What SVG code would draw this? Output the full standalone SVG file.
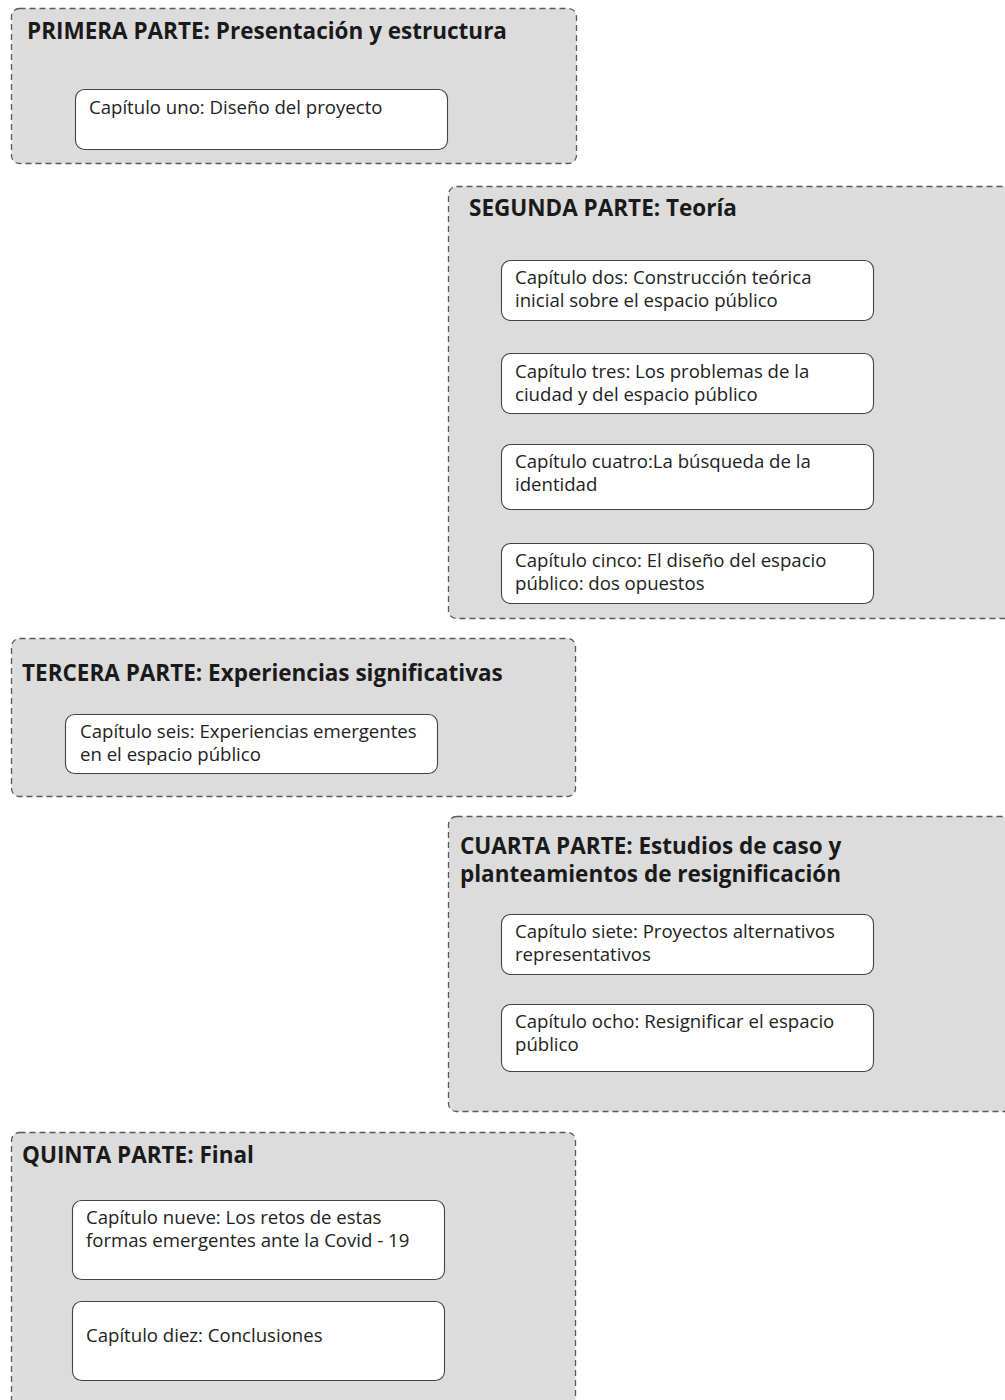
<svg xmlns="http://www.w3.org/2000/svg" width="1005" height="1400" viewBox="0 0 1005 1400">
  <style>
    .part { fill: #dcdcdc; stroke: #5a5a5a; stroke-width: 1.3; stroke-dasharray: 6 4; }
    .chap { fill: #ffffff; stroke: #444; stroke-width: 1.1; }
    .title { font-family: "Open Sans", "Liberation Sans", sans-serif; font-weight: bold; font-size: 22.5px; fill: #1a1a1a; }
    .label { font-family: "Open Sans", "Liberation Sans", sans-serif; font-size: 18.6px; fill: #222; }
  </style>
  <rect width="1005" height="1400" fill="#ffffff"/>

  <!-- Part one -->
  <g id="parte1">
    <rect class="part" x="11.5" y="8.5" width="565" height="155" rx="8"/>
    <text class="title" x="27" y="39">PRIMERA PARTE: Presentación y estructura</text>
  </g>
  <g id="cap1">
    <rect class="chap" x="75.5" y="89.5" width="372" height="60" rx="9"/>
    <text class="label" x="89" y="114">Capítulo uno: Diseño del proyecto</text>
  </g>

  <!-- Part two -->
  <g id="parte2">
    <rect class="part" x="448.5" y="186.5" width="570" height="432" rx="8"/>
    <text class="title" x="469" y="216">SEGUNDA PARTE: Teoría</text>
  </g>
  <g id="cap2">
    <rect class="chap" x="501.5" y="260.5" width="372" height="60" rx="9"/>
    <text class="label" x="515" y="284">Capítulo dos: Construcción teórica</text>
    <text class="label" x="515" y="307">inicial sobre el espacio público</text>
  </g>
  <g id="cap3">
    <rect class="chap" x="501.5" y="353.5" width="372" height="60" rx="9"/>
    <text class="label" x="515" y="378">Capítulo tres: Los problemas de la</text>
    <text class="label" x="515" y="401">ciudad y del espacio público</text>
  </g>
  <g id="cap4">
    <rect class="chap" x="501.5" y="444.5" width="372" height="65" rx="9"/>
    <text class="label" x="515" y="468">Capítulo cuatro:La búsqueda de la</text>
    <text class="label" x="515" y="491">identidad</text>
  </g>
  <g id="cap5">
    <rect class="chap" x="501.5" y="543.5" width="372" height="60" rx="9"/>
    <text class="label" x="515" y="567">Capítulo cinco: El diseño del espacio</text>
    <text class="label" x="515" y="590">público: dos opuestos</text>
  </g>

  <!-- Part three -->
  <g id="parte3">
    <rect class="part" x="11.5" y="638.5" width="564" height="158" rx="8"/>
    <text class="title" x="22" y="681">TERCERA PARTE: Experiencias significativas</text>
  </g>
  <g id="cap6">
    <rect class="chap" x="65.5" y="714.5" width="372" height="59" rx="9"/>
    <text class="label" x="80" y="738">Capítulo seis: Experiencias emergentes</text>
    <text class="label" x="80" y="761">en el espacio público</text>
  </g>

  <!-- Part four -->
  <g id="parte4">
    <rect class="part" x="448.5" y="816.5" width="570" height="295" rx="8"/>
    <text class="title" x="460" y="854">CUARTA PARTE: Estudios de caso y</text>
    <text class="title" x="460" y="882">planteamientos de resignificación</text>
  </g>
  <g id="cap7">
    <rect class="chap" x="501.5" y="914.5" width="372" height="60" rx="9"/>
    <text class="label" x="515" y="938">Capítulo siete: Proyectos alternativos</text>
    <text class="label" x="515" y="961">representativos</text>
  </g>
  <g id="cap8">
    <rect class="chap" x="501.5" y="1004.5" width="372" height="67" rx="9"/>
    <text class="label" x="515" y="1028">Capítulo ocho: Resignificar el espacio</text>
    <text class="label" x="515" y="1051">público</text>
  </g>

  <!-- Part five -->
  <g id="parte5">
    <rect class="part" x="11.5" y="1132.5" width="564" height="290" rx="8"/>
    <text class="title" x="22" y="1163">QUINTA PARTE: Final</text>
  </g>
  <g id="cap9">
    <rect class="chap" x="72.5" y="1200.5" width="372" height="79" rx="9"/>
    <text class="label" x="86" y="1224">Capítulo nueve: Los retos de estas</text>
    <text class="label" x="86" y="1247">formas emergentes ante la Covid - 19</text>
  </g>
  <g id="cap10">
    <rect class="chap" x="72.5" y="1301.5" width="372" height="79" rx="9"/>
    <text class="label" x="86" y="1342">Capítulo diez: Conclusiones</text>
  </g>

  <!-- No connectors are drawn between the parts -->
  <g id="connectors"/>
</svg>
